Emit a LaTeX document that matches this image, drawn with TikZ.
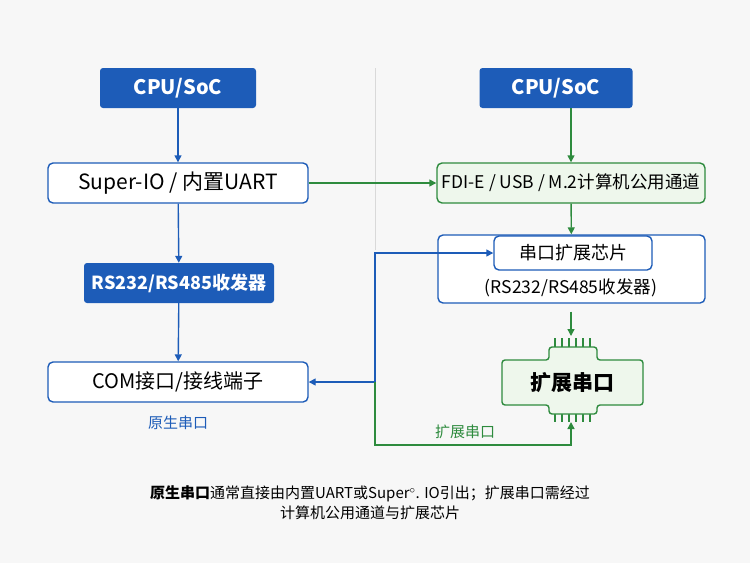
\documentclass[tikz,border=0pt]{standalone}
\usepackage{fontspec}
\setmainfont{Noto Sans CJK SC}
\usetikzlibrary{arrows.meta}
\definecolor{bl}{HTML}{1D5CB8}
\definecolor{gr}{HTML}{2E8B3E}
\definecolor{lg}{HTML}{EEF7EC}
\begin{document}
\begin{tikzpicture}[x=1pt,y=-1pt,
 solid/.style={rounded corners=3pt,fill=bl,text=white,font=\fontsize{20}{23}\selectfont\bfseries,inner sep=0pt},
 wbox/.style={rounded corners=5pt,draw=bl,line width=1.4pt,fill=white,font=\fontsize{21}{24}\selectfont,inner sep=0pt},
 gbox/.style={rounded corners=5pt,draw=gr,line width=1.4pt,fill=lg,font=\fontsize{17.5}{20}\selectfont,inner sep=0pt},
 ba/.style={draw=bl,line width=1.4pt,-{Triangle[length=7pt,width=7pt]}},
 ga/.style={draw=gr,line width=1.4pt,-{Triangle[length=7pt,width=7pt]}}]
\fill[color=gray!6] (0,0) rectangle (750,563);
\useasboundingbox (0,0) rectangle (750,563);
\draw[gray!30,line width=0.8pt] (375,68) -- (375,250);
\node[solid,minimum width=156pt,minimum height=40pt] (cpuL) at (178,88) {CPU/SoC};
\node[solid,minimum width=153pt,minimum height=40pt] (cpuR) at (556,88) {CPU/SoC};
\node[wbox,minimum width=260pt,minimum height=40pt] (sio) at (178,183) {Super-IO / 内置UART};
\node[gbox,minimum width=268pt,minimum height=40pt] (fdi) at (571,183) {FDI-E / USB / M.2计算机公用通道};
\node[solid,minimum width=190pt,minimum height=40pt,font=\fontsize{18}{21}\selectfont\bfseries] (rs) at (179,283) {RS232/RS485收发器};
\node[wbox,minimum width=260pt,minimum height=40pt,font=\fontsize{20}{23}\selectfont] (com) at (178,382) {COM接口/接线端子};
\node[text=bl,font=\fontsize{15}{17}\selectfont] (yl) at (178,423) {原生串口};
\node[wbox,minimum width=267pt,minimum height=68pt] (outer) at (571.5,269) {};
\node[wbox,minimum width=158pt,minimum height=34pt,font=\fontsize{18}{21}\selectfont] (inner) at (573,253) {串口扩展芯片};
\node[font=\fontsize{17.5}{20}\selectfont] (rst) at (571,288) {(RS232/RS485收发器)};
% chip
\foreach \x in {555,562,569,576,583,590}{
 \draw[gr,line width=1.2pt] (\x,338) -- (\x,347);
 \draw[gr,line width=1.2pt] (\x,413) -- (\x,422);}
\draw[gr,line width=1.4pt,fill=lg,rounded corners=3pt]
 (549,347) -- (597,347) -- (597,360) -- (643,360) -- (643,405) -- (597,405) -- (597,414) -- (549,414) -- (549,405) -- (502,405) -- (502,360) -- (549,360) -- cycle;
\node[font=\fontsize{21}{24}\selectfont\bfseries] (chip) at (572,383) {扩展串口};
\coordinate (cb) at (571,422);
\coordinate (ct) at (571,336);
\coordinate (j) at (375,382);
\coordinate (jt) at (375,253);
\coordinate (jb) at (375,445);
\coordinate (jr) at (571,445);
\draw[ba] (cpuL) -- (sio);
\draw[ba] (sio) -- (rs);
\draw[ba] (rs) -- (com);
\draw[ga] (cpuR.south -| fdi.north) -- (fdi);
\draw[ga] (sio) -- (fdi);
\draw[ga] (fdi) -- (outer);
\draw[ga] (outer.south -| ct) ++(0,8) -- (ct);
\draw[ba] (j) -- (com);
\draw[ba] (j) -- (jt) -- (inner);
\draw[ga] (j) -- (jb) -- (jr) -- (cb);
\node[text=gr,font=\fontsize{15}{17}\selectfont] (gl) at (465,432) {扩展串口};
\node[align=center,font=\fontsize{15}{20}\selectfont] (note) at (370,503) {\textbf{原生串口}通常直接由内置UART或Super$^\circ$. IO引出；扩展串口需经过\\计算机公用通道与扩展芯片};
\end{tikzpicture}
\end{document}
